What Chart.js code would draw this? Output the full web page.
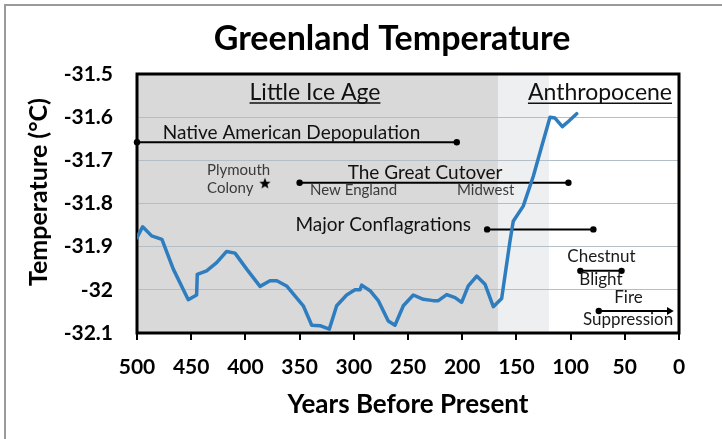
<!DOCTYPE html>
<html>
<head>
<meta charset="utf-8">
<script src="https://cdn.jsdelivr.net/npm/chart.js@4.4.1/dist/chart.umd.min.js"></script>
<style>
  html, body { margin:0; padding:0; background:#fff; }
  #wrap { width:722px; height:439px; }
</style>
</head>
<body>
<div id="wrap"><canvas id="chart" width="722" height="439"></canvas></div>
<script>
/* ====== データ ====== */
// 年代（Years Before Present）と気温
const years = [500, 494.8, 486.5, 477, 466.5, 452.7, 445, 444.4, 435.8, 426.5,
  417.3, 409.6, 398.8, 386.5, 377.3, 371, 362, 346.6, 338.8, 331.2,
  322.6, 315.8, 306.6, 298.9, 294.3, 292.7, 285, 277.4, 268.2, 262,
  254.3, 245.1, 235.9, 226.7, 222, 214.3, 206.6, 200.5, 194.4, 186.6,
  179, 171.3, 163.6, 155.9, 152.9, 143.7, 134.4, 126.7, 119, 114.4,
  107.6, 102.1, 94.4];
const temps = [-31.879, -31.854, -31.875, -31.883, -31.952, -32.023, -32.012, -31.964, -31.956, -31.937,
  -31.911, -31.915, -31.952, -31.992, -31.979, -31.979, -31.991, -32.037, -32.082, -32.083,
  -32.091, -32.037, -32.012, -32.0, -32.0, -31.989, -32.002, -32.025, -32.072, -32.082,
  -32.037, -32.012, -32.022, -32.025, -32.025, -32.011, -32.018, -32.029, -31.991, -31.968,
  -31.987, -32.039, -32.020, -31.887, -31.841, -31.806, -31.737, -31.668, -31.600, -31.602,
  -31.622, -31.610, -31.592];

// 軸目盛
const xTicks = [500, 450, 400, 350, 300, 250, 200, 150, 100, 50, 0];
const yTicks = [-31.5, -31.6, -31.7, -31.8, -31.9, -32, -32.1];

// 期間の帯（年）
const bandEdges = [500, 167, 120];

// 出来事の期間（開始年・終了年・縦位置）
const spanNames = ['Native American Depopulation', 'The Great Cutover', 'Major Conflagrations', 'Chestnut Blight', 'Fire Suppression'];
const spanStart = [500, 350, 177, 91, 74];
const spanEnd   = [205, 102, 79, 53, 9];
const spanTemp  = [-31.658, -31.752, -31.86, -31.956, -32.049];

// Plymouth Colony
const plymouthYear = [382];
const plymouthTemp = [-31.754];

// 注記テキスト（年・気温で位置指定）
const notes = [
  { text:'Little Ice Age', year:335.8, temp:-31.560, align:'center', kind:'head' },
  { text:'Anthropocene', year:72.9, temp:-31.561, align:'center', kind:'head' },
  { text:'Native American Depopulation', year:357.5, temp:-31.650, align:'center', kind:'big' },
  { text:'Plymouth', year:435.4, temp:-31.733, align:'left', kind:'small' },
  { text:'Colony', year:435.4, temp:-31.775, align:'left', kind:'small' },
  { text:'The Great Cutover', year:234.3, temp:-31.743, align:'center', kind:'big' },
  { text:'New England', year:340.4, temp:-31.780, align:'left', kind:'small' },
  { text:'Midwest', year:204.8, temp:-31.780, align:'left', kind:'small' },
  { text:'Major Conflagrations', year:191.9, temp:-31.863, align:'right', kind:'big' },
  { text:'Chestnut', year:71.5, temp:-31.935, align:'center', kind:'mid' },
  { text:'Blight', year:72, temp:-31.989, align:'center', kind:'mid' },
  { text:'Fire', year:46.6, temp:-32.031, align:'center', kind:'mid' },
  { text:'Suppression', year:47, temp:-32.082, align:'center', kind:'mid' }
];

/* ====== スタイル ====== */
const FONT = 'Lato, "Open Sans", sans-serif';
const noteStyle = {
  head:  { size:23, color:'#111', underline:true },
  big:   { size:19, color:'#111' },
  mid:   { size:17, color:'#1a1a1a' },
  small: { size:15, color:'#3a3a3a' }
};
const bandColors = ['#d9d9d9', '#edeff0'];
const gridColor = '#b3bec6';

/* ====== 星マーカー ====== */
function makeStar(r){
  const c = document.createElement('canvas');
  c.width = c.height = r*2+2;
  const g = c.getContext('2d');
  g.fillStyle = '#000';
  g.beginPath();
  for (let i=0;i<10;i++){
    const a = -Math.PI/2 + i*Math.PI/5;
    const rr = i%2===0 ? r : r*0.42;
    const px = r+1 + rr*Math.cos(a), py = r+1 + rr*Math.sin(a);
    i ? g.lineTo(px,py) : g.moveTo(px,py);
  }
  g.closePath(); g.fill();
  return c;
}

/* ====== プラグイン ====== */
const backdrop = {
  id:'backdrop',
  beforeDraw(chart){
    const {ctx, chartArea:a, scales:{x}} = chart;
    ctx.save();
    ctx.fillStyle = '#fff';
    ctx.fillRect(0,0,chart.width,chart.height);
    ctx.strokeStyle = '#9a9a9a'; ctx.lineWidth = 2;
    ctx.strokeRect(5,5,chart.width+20,chart.height+20);
    for (let i=0;i<bandEdges.length-1;i++){
      const x0 = x.getPixelForValue(bandEdges[i]), x1 = x.getPixelForValue(bandEdges[i+1]);
      ctx.fillStyle = bandColors[i];
      ctx.fillRect(x0, a.top, x1-x0, a.bottom-a.top);
    }
    ctx.restore();
  },
  beforeDatasetsDraw(chart){
    const {ctx, chartArea:a} = chart;
    ctx.save();
    ctx.strokeStyle = '#000'; ctx.lineWidth = 3;
    ctx.strokeRect(a.left, a.top, a.right-a.left, a.bottom-a.top);
    ctx.restore();
  }
};

const labelsPlugin = {
  id:'labels',
  afterDatasetsDraw(chart){
    const {ctx, scales:{x,y}} = chart;
    ctx.save();
    ctx.textBaseline = 'alphabetic';
    notes.forEach(n=>{
      const st = noteStyle[n.kind];
      ctx.font = `${st.size}px ${FONT}`;
      ctx.fillStyle = st.color;
      ctx.textAlign = n.align;
      const px = x.getPixelForValue(n.year), py = y.getPixelForValue(n.temp);
      ctx.fillText(n.text, px, py);
      if (st.underline){
        const w = ctx.measureText(n.text).width;
        const l = n.align==='center' ? px-w/2 : (n.align==='right' ? px-w : px);
        ctx.strokeStyle = st.color; ctx.lineWidth = 1.5;
        ctx.beginPath(); ctx.moveTo(l, py+3); ctx.lineTo(l+w, py+3); ctx.stroke();
      }
    });
    ctx.restore();
  },
  afterDraw(chart){
    const {ctx} = chart;
    ctx.save();
    ctx.fillStyle = '#000';
    ctx.textAlign = 'center'; ctx.textBaseline = 'alphabetic';
    ctx.font = `bold 34px ${FONT}`;
    ctx.fillText('Greenland Temperature', 392, 50);
    ctx.translate(39, 192);
    ctx.rotate(-Math.PI/2);
    ctx.textBaseline = 'middle';
    ctx.font = `bold 25px ${FONT}`;
    ctx.fillText('Temperature (°C)', 0, 0);
    ctx.restore();
  }
};

/* ====== データセット ====== */
const spanSets = spanNames.map((name,i)=>{
  const arrow = name === 'Fire Suppression';
  return {
    label:name,
    data:[{x:spanStart[i], y:spanTemp[i]}, {x:spanEnd[i], y:spanTemp[i]}],
    showLine:true,
    borderColor:'#000', backgroundColor:'#000', borderWidth:2,
    pointRadius: arrow ? [3.2, 4.5] : 3.2,
    pointStyle: arrow ? ['circle','triangle'] : 'circle',
    rotation: arrow ? [0, 90] : 0,
    pointBorderWidth:0,
    clip:false, order:2
  };
});

new Chart(document.getElementById('chart').getContext('2d'), {
  type:'scatter',
  data:{
    datasets:[
      {
        label:'Greenland Temperature',
        data: years.map((yr,i)=>({x:yr, y:temps[i]})),
        showLine:true, borderColor:'#2e7dbf', borderWidth:3.5,
        pointRadius:0, tension:0, order:1,
        borderJoinStyle:'round', borderCapStyle:'round'
      },
      ...spanSets,
      {
        label:'Plymouth Colony',
        data: plymouthYear.map((yr,i)=>({x:yr, y:plymouthTemp[i]})),
        pointStyle: makeStar(6), pointRadius:6, order:2
      }
    ]
  },
  options:{
    responsive:false, animation:false,
    layout:{ padding:{ top:74, right:43, left:0, bottom:0 } },
    scales:{
      x:{
        type:'linear', reverse:true, min:0, max:500,
        afterBuildTicks: s => { s.ticks = xTicks.map(v=>({value:v})); },
        afterFit: s => { s.height = 106; },
        border:{ display:false },
        grid:{ drawOnChartArea:false, drawTicks:true, tickLength:7, color:'#000', lineWidth:2 },
        ticks:{ color:'#000', padding:15, maxRotation:0, font:{ family:FONT, size:21, weight:'bold' } },
        title:{ display:true, text:'Years Before Present', color:'#000',
          font:{ family:FONT, size:26, weight:'bold' }, padding:{ top:0, bottom:19 } }
      },
      y:{
        type:'linear', min:-32.1, max:-31.5,
        afterBuildTicks: s => { s.ticks = yTicks.map(v=>({value:v})); },
        afterFit: s => { s.width = 137; },
        border:{ display:false },
        grid:{ color:gridColor, lineWidth:1, drawTicks:false },
        ticks:{ color:'#000', padding:24, callback: v => String(Math.round(v*10)/10),
          font:{ family:FONT, size:21, weight:'bold' } }
      }
    },
    plugins:{ legend:{ display:false }, tooltip:{ enabled:false }, title:{ display:false } }
  },
  plugins:[backdrop, labelsPlugin]
});
</script>
</body>
</html>
